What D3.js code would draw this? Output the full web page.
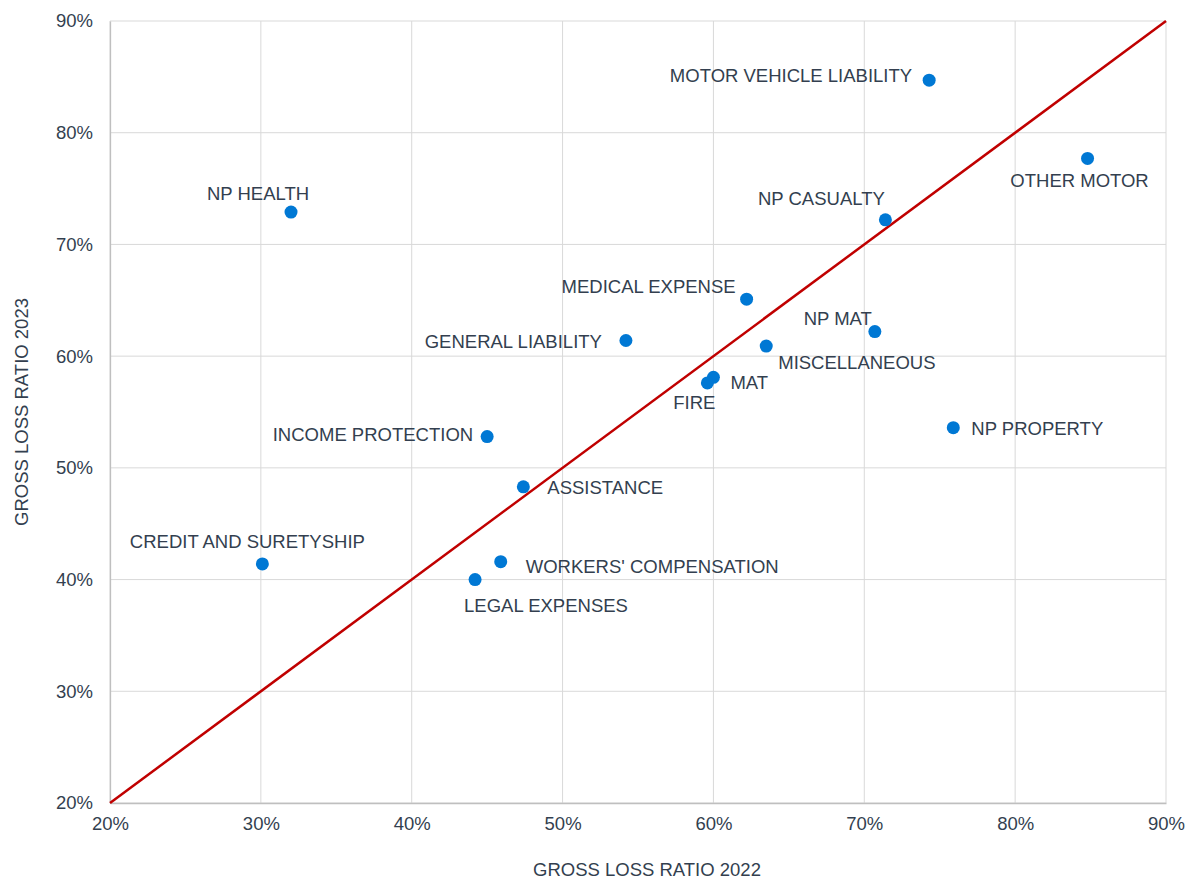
<!DOCTYPE html>
<html>
<head>
<meta charset="utf-8">
<script src="https://cdn.jsdelivr.net/npm/d3@7"></script>
<style>
  body { margin: 0; background: #fff; }
  svg text { font-family: "Liberation Sans", Arial, sans-serif; fill: #333f4f; }
</style>
</head>
<body>
<div id="chart"></div>
<script>
// Lines of business and gross loss ratios (%)
const lines = ["MOTOR VEHICLE LIABILITY", "OTHER MOTOR", "NP HEALTH", "NP CASUALTY", "MEDICAL EXPENSE",
  "NP MAT", "GENERAL LIABILITY", "MISCELLANEOUS", "MAT", "FIRE", "NP PROPERTY", "INCOME PROTECTION",
  "ASSISTANCE", "CREDIT AND SURETYSHIP", "WORKERS' COMPENSATION", "LEGAL EXPENSES"];
const ratio2022 = [74.3, 84.8, 32.0, 71.4, 62.2, 70.7, 54.2, 63.5, 60.0, 59.6, 75.9, 45.0, 47.4, 30.1, 45.9, 44.2];
const ratio2023 = [84.7, 77.7, 72.9, 72.2, 65.1, 62.2, 61.4, 60.9, 58.1, 57.6, 53.6, 52.8, 48.3, 41.4, 41.6, 40.0];
const ticks = [20, 30, 40, 50, 60, 70, 80, 90];
const diagonal = [20, 90];

// label placement: [dx, dy, anchor] relative to the point
const labelPlace = [
  [-17, -5, "end"], [-8, 22, "middle"], [-33, -19, "middle"], [-64, -21, "middle"], [-11, -13, "end"],
  [-3, -13, "end"], [-24, 1, "end"], [12, 16, "start"], [17, 5, "start"], [8, 20, "end"],
  [18, 1, "start"], [-14, -2, "end"], [24, 1, "start"], [-15, -22, "middle"], [25, 5, "start"],
  [-11, 26, "start"]
];

const margin = { top: 21, right: 19, bottom: 76, left: 110 };
const W = 1185, H = 879;
const width = W - margin.left - margin.right;
const height = H - margin.top - margin.bottom;

const svg = d3.select("#chart").append("svg")
  .attr("width", W).attr("height", H);
const g = svg.append("g").attr("transform", `translate(${margin.left},${margin.top})`);

const x = d3.scaleLinear().domain([20, 90]).range([0, width]);
const y = d3.scaleLinear().domain([20, 90]).range([height, 0]);

// gridlines
g.append("g").selectAll("line.vx").data(ticks).join("line")
  .attr("x1", d => x(d)).attr("x2", d => x(d)).attr("y1", 0).attr("y2", height)
  .attr("stroke", "#d9d9d9").attr("stroke-width", 1);
g.append("g").selectAll("line.hy").data(ticks).join("line")
  .attr("y1", d => y(d)).attr("y2", d => y(d)).attr("x1", 0).attr("x2", width)
  .attr("stroke", "#d9d9d9").attr("stroke-width", 1);

// axes
const xAxis = g.append("g").attr("transform", `translate(0,${height})`)
  .call(d3.axisBottom(x).tickValues(ticks).tickSize(0).tickPadding(14).tickFormat(d => d + "%"));
const yAxis = g.append("g")
  .call(d3.axisLeft(y).tickValues(ticks).tickSize(0).tickPadding(17).tickFormat(d => d + "%"));
[xAxis, yAxis].forEach(a => {
  a.select(".domain").attr("stroke", "#bfbfbf").attr("stroke-width", 1.3);
  a.selectAll("text").style("font-size", "18.5px").attr("fill", "#333f4f");
});

// diagonal
g.append("line")
  .attr("x1", x(diagonal[0])).attr("y1", y(diagonal[0]))
  .attr("x2", x(diagonal[1])).attr("y2", y(diagonal[1]))
  .attr("stroke", "#c00000").attr("stroke-width", 2.5);

// points
const data = lines.map((name, i) => ({ name, x: ratio2022[i], y: ratio2023[i], p: labelPlace[i] }));
g.selectAll("circle").data(data).join("circle")
  .attr("cx", d => x(d.x)).attr("cy", d => y(d.y)).attr("r", 6.5)
  .attr("fill", "#0078d4");

g.selectAll("text.lbl").data(data).join("text")
  .attr("class", "lbl")
  .attr("x", d => x(d.x) + d.p[0]).attr("y", d => y(d.y) + d.p[1])
  .attr("dy", "0.35em")
  .attr("text-anchor", d => d.p[2])
  .style("font-size", "18.5px")
  .text(d => d.name);

// axis titles
svg.append("text")
  .attr("x", 647).attr("y", 870)
  .attr("dy", "0.35em").attr("text-anchor", "middle")
  .style("font-size", "18.5px").text("GROSS LOSS RATIO 2022");
svg.append("text")
  .attr("transform", `translate(22,${margin.top + height / 2}) rotate(-90)`)
  .attr("dy", "0.35em").attr("text-anchor", "middle")
  .style("font-size", "18.5px").text("GROSS LOSS RATIO 2023");
</script>
</body>
</html>
